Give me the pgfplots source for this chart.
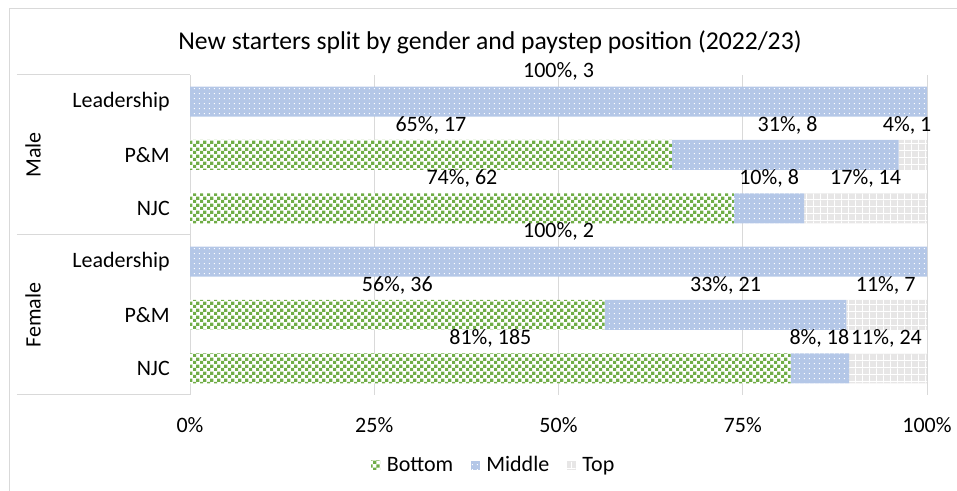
\documentclass[border=0pt]{standalone}
\usepackage{fontspec}
\setmainfont{Carlito}
\usepackage{pgfplots}
\pgfplotsset{compat=1.18}
\usetikzlibrary{patterns}

\definecolor{cgreen}{HTML}{70AD47}
\definecolor{cblue}{HTML}{B4C7E7}
\definecolor{cgrey}{HTML}{E7E6E6}
\definecolor{cline}{HTML}{D9D9D9}

% Excel-like fill patterns
\pgfdeclarepatternformonly{xcheck}{\pgfqpoint{0pt}{0pt}}{\pgfqpoint{5pt}{5pt}}{\pgfqpoint{5pt}{5pt}}{%
  \pgfpathrectangle{\pgfqpoint{0pt}{0pt}}{\pgfqpoint{2.5pt}{2.5pt}}%
  \pgfpathrectangle{\pgfqpoint{2.5pt}{2.5pt}}{\pgfqpoint{2.5pt}{2.5pt}}%
  \pgfusepath{fill}}
\pgfdeclarepatternformonly{xdots}{\pgfqpoint{0pt}{0pt}}{\pgfqpoint{3.6pt}{3.6pt}}{\pgfqpoint{3.6pt}{3.6pt}}{%
  \pgfpathrectangle{\pgfqpoint{1.4pt}{1.4pt}}{\pgfqpoint{0.75pt}{0.75pt}}%
  \pgfusepath{fill}}
\pgfdeclarepatternformonly{xgrid}{\pgfqpoint{0pt}{0pt}}{\pgfqpoint{5.5pt}{5.5pt}}{\pgfqpoint{5.5pt}{5.5pt}}{%
  \pgfpathrectangle{\pgfqpoint{0pt}{0pt}}{\pgfqpoint{5.5pt}{0.75pt}}%
  \pgfpathrectangle{\pgfqpoint{0pt}{0pt}}{\pgfqpoint{0.75pt}{5.5pt}}%
  \pgfusepath{fill}}

\newcommand\fs{\fontsize{16.5pt}{19.8pt}\selectfont}

\begin{document}
\begin{tikzpicture}[x=1pt,y=1pt]
\useasboundingbox (0,0) rectangle (717.75,368.25);
\draw[cline, line width=0.75pt] (6.75,0) -- (6.75,361.5) -- (717.75,361.5);
\node[font=\fontsize{19.25pt}{23pt}\selectfont] at (367.5,336.75)
  {New starters split by gender and paystep position (2022/23)};

\begin{axis}[
  at={(142.5pt,72pt)}, anchor=south west,
  scale only axis, width=552.75pt, height=240pt,
  xbar stacked, bar width=22.5pt,
  xmin=0, xmax=100, ymin=-0.5, ymax=5.5,
  xtick={0,25,50,75,100},
  xticklabels={0\%,25\%,50\%,75\%,100\%},
  ytick={0,1,2,3,4,5},
  yticklabels={NJC,P\&M,Leadership,NJC,P\&M,Leadership},
  xmajorgrids, grid style={cline, line width=0.75pt},
  axis line style={draw=none}, tick style={draw=none},
  tick label style={font=\fs, inner sep=0pt},
  xticklabel style={anchor=center, yshift=-22.5pt},
  yticklabel style={anchor=east, xshift=-15pt},
  legend columns=3,
  legend style={at={(0.4125,-0.219)}, anchor=center, draw=none, font=\fs,
    /tikz/every odd column/.append style={column sep=3pt},
    /tikz/every even column/.append style={column sep=11pt}},
  legend image code/.code={\path[#1] (0pt,-3.4pt) rectangle (6.8pt,3.4pt);},
  clip=false,
]
\addplot[fill=white, draw=none, postaction={pattern=xcheck, pattern color=cgreen}]
  coordinates {(81.50,0) (56.25,1) (0,2) (73.81,3) (65.38,4) (0,5)};
\addlegendentry{Bottom}
\addplot[fill=cblue, draw=none, postaction={pattern=xdots, pattern color=white}]
  coordinates {(7.93,0) (32.81,1) (100,2) (9.52,3) (30.77,4) (100,5)};
\addlegendentry{Middle}
\addplot[fill=cgrey, draw=none, postaction={pattern=xgrid, pattern color=white}]
  coordinates {(10.57,0) (10.94,1) (0,2) (16.67,3) (3.85,4) (0,5)};
\addlegendentry{Top}

% multi-level category boxes
\draw[cline, line width=0.75pt] ([xshift=-129.75pt]axis cs:0,5.5) -- (axis cs:0,5.5);
\draw[cline, line width=0.75pt] ([xshift=-129.75pt]axis cs:0,2.5) -- (axis cs:0,2.5);
\draw[cline, line width=0.75pt] ([xshift=-129.75pt]axis cs:0,-0.5) -- (axis cs:0,-0.5);
\draw[cline, line width=0.75pt] (axis cs:0,-0.5) -- (axis cs:0,5.5);
\node[rotate=90, font=\fs] at ([xshift=-117.75pt]axis cs:0,4) {Male};
\node[rotate=90, font=\fs] at ([xshift=-117.75pt]axis cs:0,1) {Female};
\end{axis}

% data labels
\begin{axis}[
  at={(142.5pt,72pt)}, anchor=south west,
  scale only axis, width=552.75pt, height=240pt,
  xmin=0, xmax=100, ymin=-0.5, ymax=5.5,
  hide axis, clip=false,
]
\addplot[draw=none, mark=none, nodes near coords, point meta=explicit symbolic,
  every node near coord/.append style={font=\fs, inner sep=0pt, anchor=center}]
  coordinates {
  (50,5.5625) [100\%, 3]
  (32.69,4.5625) [65\%, 17]
  (81.08,4.5625) [31\%, 8]
  (97.3,4.5625) [4\%, 1]
  (36.9,3.5625) [74\%, 62]
  (78.57,3.5625) [10\%, 8]
  (91.67,3.5625) [17\%, 14]
  (50,2.5625) [100\%, 2]
  (28.13,1.5625) [56\%, 36]
  (72.66,1.5625) [33\%, 21]
  (94.4,1.5625) [11\%, 7]
  (40.75,0.5625) [81\%, 185]
  (85.4,0.5625) [8\%, 18]
  (94.5,0.5625) [11\%, 24]
};
\end{axis}
\end{tikzpicture}
\end{document}
